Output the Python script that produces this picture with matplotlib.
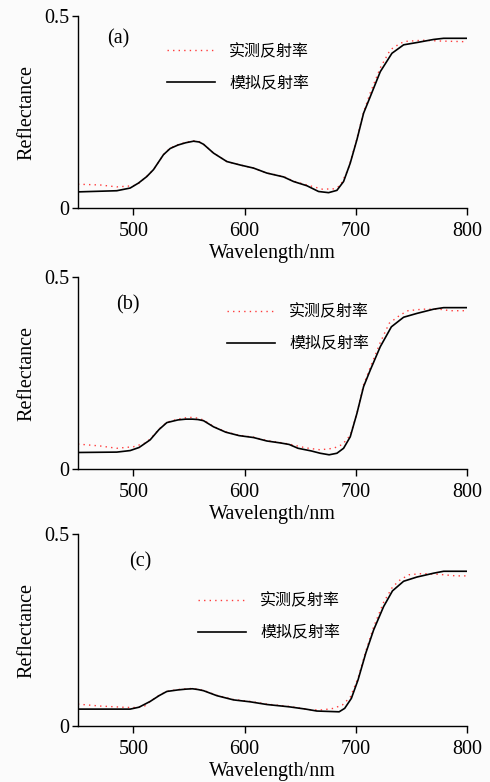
import numpy as np
import matplotlib
matplotlib.use("Agg")
import matplotlib.pyplot as plt

plt.rcParams['font.family'] = ['Liberation Serif', 'Noto Sans CJK SC', 'DejaVu Sans']

# (a)
wl_sim_a = [450, 485, 497, 504.5, 512, 518, 527, 533, 540, 547, 554, 559, 563, 572, 584,
            596, 608, 620, 629, 635, 644, 656, 666.5, 675.5, 683, 689, 695, 701, 707,
            713, 722, 732.5, 743, 755, 770, 779, 800]
sim_a = [0.042, 0.045, 0.052, 0.065, 0.082, 0.100, 0.139, 0.155, 0.164, 0.170, 0.174,
         0.172, 0.166, 0.143, 0.121, 0.112, 0.104, 0.091, 0.085, 0.081, 0.069, 0.058,
         0.043, 0.040, 0.046, 0.069, 0.117, 0.178, 0.247, 0.290, 0.355, 0.403, 0.425,
         0.431, 0.439, 0.442, 0.442]
wl_mea_a = [450, 470, 485, 500, 505, 512, 518, 527, 533, 540, 547, 554, 559, 563, 572,
            584, 596, 608, 620, 629, 635, 644, 656, 670, 680, 686, 693, 700, 707, 713,
            722, 731, 740, 745, 760, 775, 800]
mea_a = [0.062, 0.060, 0.055, 0.058, 0.065, 0.083, 0.100, 0.139, 0.156, 0.165, 0.171,
         0.175, 0.173, 0.166, 0.143, 0.121, 0.112, 0.104, 0.091, 0.086, 0.082, 0.070,
         0.060, 0.049, 0.050, 0.058, 0.100, 0.170, 0.250, 0.300, 0.365, 0.412, 0.429,
         0.434, 0.437, 0.435, 0.433]

# (b)
wl_sim_b = [450, 485, 497, 505, 515, 523, 530, 540, 547, 553, 558, 563, 572, 583, 595,
            608, 620, 632, 640, 648, 660, 668, 676, 683, 689, 695, 701, 707, 713, 722,
            732, 743, 755, 770, 779, 800]
sim_b = [0.043, 0.044, 0.048, 0.056, 0.076, 0.103, 0.121, 0.128, 0.130, 0.130, 0.129,
         0.126, 0.110, 0.096, 0.087, 0.082, 0.073, 0.068, 0.064, 0.054, 0.047, 0.041,
         0.037, 0.041, 0.054, 0.084, 0.145, 0.215, 0.258, 0.319, 0.371, 0.396, 0.406,
         0.417, 0.421, 0.421]
wl_mea_b = [450, 470, 485, 500, 510, 515, 523, 530, 540, 550, 557, 563, 572, 583, 595,
            608, 620, 632, 640, 655, 668, 680, 688, 695, 701, 707, 713, 722, 730, 740,
            747, 760, 775, 785, 800]
mea_b = [0.065, 0.060, 0.054, 0.058, 0.067, 0.078, 0.104, 0.122, 0.130, 0.135, 0.133,
         0.128, 0.111, 0.097, 0.088, 0.083, 0.074, 0.069, 0.065, 0.055, 0.050, 0.054,
         0.064, 0.088, 0.145, 0.220, 0.265, 0.330, 0.380, 0.402, 0.413, 0.417, 0.417,
         0.413, 0.413]

# (c)
wl_sim_c = [450, 497, 505, 515, 523, 530, 540, 547, 553, 558, 563, 575, 590, 605, 620,
            640, 655, 665, 685, 690, 696, 702, 709, 716, 725, 733, 743, 755, 770, 779, 800]
sim_c = [0.044, 0.044, 0.049, 0.064, 0.079, 0.090, 0.094, 0.096, 0.097, 0.095, 0.092,
         0.079, 0.068, 0.063, 0.056, 0.050, 0.044, 0.039, 0.037, 0.046, 0.072, 0.120,
         0.190, 0.250, 0.311, 0.352, 0.377, 0.388, 0.398, 0.403, 0.403]
wl_mea_c = [450, 470, 490, 500, 510, 515, 523, 530, 540, 553, 563, 575, 590, 605, 620,
            640, 660, 670, 680, 688, 695, 702, 709, 716, 725, 733, 740, 748, 760, 775,
            790, 800]
mea_c = [0.057, 0.052, 0.049, 0.048, 0.052, 0.064, 0.080, 0.090, 0.095, 0.098, 0.093,
         0.080, 0.069, 0.064, 0.057, 0.051, 0.042, 0.042, 0.046, 0.055, 0.075, 0.125,
         0.195, 0.258, 0.322, 0.362, 0.381, 0.394, 0.397, 0.395, 0.391, 0.391]

panels = [
    ("(a)", wl_mea_a, mea_a, wl_sim_a, sim_a),
    ("(b)", wl_mea_b, mea_b, wl_sim_b, sim_b),
    ("(c)", wl_mea_c, mea_c, wl_sim_c, sim_c),
]
labels_pos = [(486, 0.44), (495, 0.428), (506, 0.427)]
legend_pos = [(0.229, 0.86), (0.383, 0.865), (0.308, 0.695)]
axes_rect = [(0.159, 0.734, 0.794, 0.2455),
             (0.159, 0.4003, 0.794, 0.245),
             (0.159, 0.0716, 0.794, 0.2455)]

fig = plt.figure(figsize=(4.9, 7.82), dpi=100)
fig.patch.set_facecolor('#fbfbfb')

for i, (tag, wm, ym, ws, ys) in enumerate(panels):
    ax = fig.add_axes(axes_rect[i])
    ax.set_facecolor('#fbfbfb')
    ax.plot(wm, ym, color='#ff3b3b', lw=1.0, linestyle=(0, (1, 3)), label='实测反射率')
    ax.plot(ws, ys, color='black', lw=1.2, label='模拟反射率')
    ax.set_xlim(450, 800)
    ax.set_ylim(0, 0.5)
    ax.set_xticks([500, 600, 700, 800])
    ax.set_yticks([0, 0.5])
    ax.set_yticklabels(['0', '0.5'])
    for s in ['top', 'right']:
        ax.spines[s].set_visible(False)
    for s in ['left', 'bottom']:
        ax.spines[s].set_linewidth(1.0)
    ax.tick_params(axis='x', direction='out', length=5, width=1.0, labelsize=14.5, pad=5)
    ax.tick_params(axis='y', direction='out', length=4, width=1.0, labelsize=14.5, pad=2)
    ax.set_xlabel('Wavelength/nm', fontsize=14.5, labelpad=2)
    ax.set_ylabel('Reflectance', fontsize=14.5, labelpad=6)
    ax.text(labels_pos[i][0], labels_pos[i][1], tag, fontsize=14.5, ha='center', va='center')
    leg = ax.legend(loc='upper left', bbox_to_anchor=legend_pos[i], frameon=False,
                    fontsize=11.5, handlelength=3.0, handletextpad=0.9, labelspacing=0.95,
                    borderpad=0, borderaxespad=0)
    for t in leg.get_texts():
        t.set_family(['Noto Sans CJK SC', 'DejaVu Sans'])

fig.savefig('out.png', dpi=100, facecolor=fig.get_facecolor())
